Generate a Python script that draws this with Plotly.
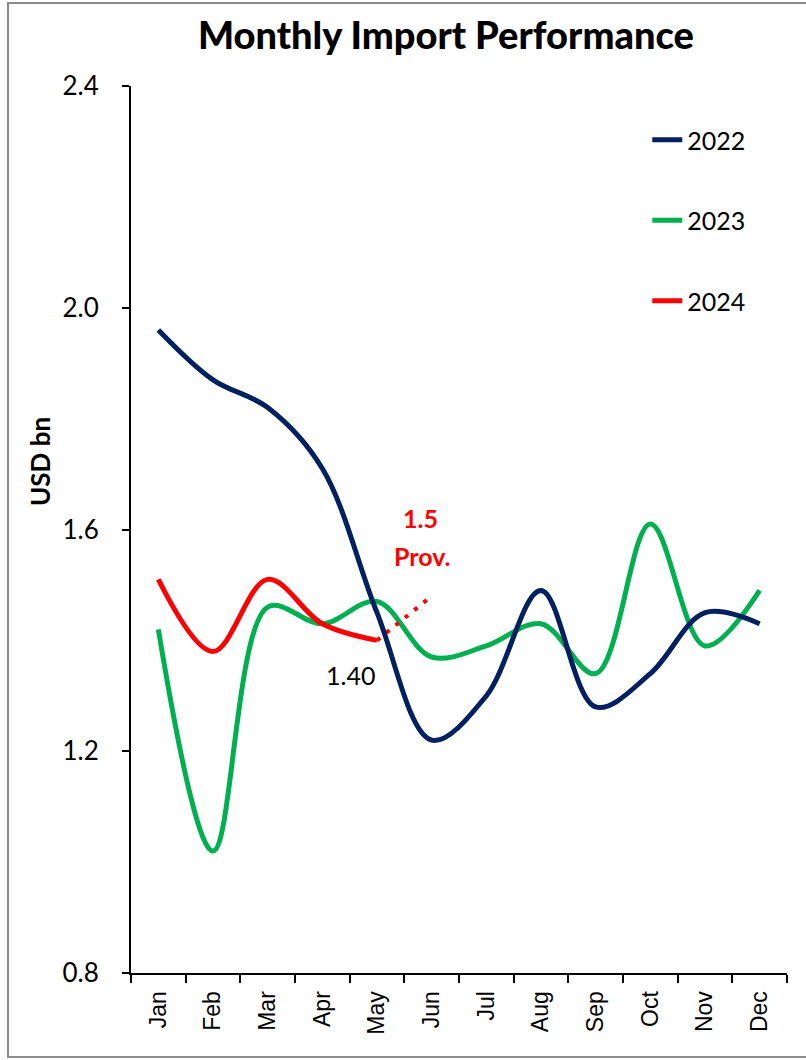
import plotly.graph_objects as go

months = ["Jan", "Feb", "Mar", "Apr", "May", "Jun", "Jul", "Aug", "Sep", "Oct", "Nov", "Dec"]
imp_2022 = [1.96, 1.87, 1.82, 1.71, 1.45, 1.22, 1.30, 1.49, 1.28, 1.34, 1.45, 1.43]
imp_2023 = [1.42, 1.02, 1.46, 1.43, 1.47, 1.37, 1.39, 1.43, 1.34, 1.61, 1.39, 1.49]
imp_2024 = [1.51, 1.38, 1.51, 1.43, 1.40]
prov_months = ["May", "Jun"]
prov_values = [1.40, 1.48]

NAVY = "#002060"
GREEN = "#00B050"
RED = "#FF0000"
FONT = "Lato"

fig = go.Figure()
fig.add_trace(go.Scatter(x=months, y=imp_2023, name="2023", mode="lines",
                         line=dict(color=GREEN, width=5, shape="spline", smoothing=1.0),
                         legendgroup="b", legendrank=2))
fig.add_trace(go.Scatter(x=months[:len(imp_2024)], y=imp_2024, name="2024", mode="lines",
                         line=dict(color=RED, width=5, shape="spline", smoothing=1.0),
                         legendgroup="c", legendrank=3))
fig.add_trace(go.Scatter(x=prov_months, y=prov_values, mode="lines", showlegend=False,
                         line=dict(color=RED, width=4, dash="4px,8px")))
fig.add_trace(go.Scatter(x=months, y=imp_2022, name="2022", mode="lines",
                         line=dict(color=NAVY, width=5, shape="spline", smoothing=1.0),
                         legendgroup="a", legendrank=1))

fig.add_annotation(x=prov_months[0], y=prov_values[0], text=f"{prov_values[0]:.2f}",
                   showarrow=False, xshift=-27, yshift=-35,
                   font=dict(family=FONT, size=25, color="black"))
fig.add_annotation(x=prov_months[1], y=prov_values[1], text=f"<b>{prov_values[1]:.1f}</b>",
                   showarrow=False, xshift=-11, yshift=78,
                   font=dict(family=FONT, size=25, color=RED))
fig.add_annotation(x=prov_months[1], y=prov_values[1], text="<b>Prov.</b>",
                   showarrow=False, xshift=-9, yshift=40,
                   font=dict(family=FONT, size=25, color=RED))

# y axis title
fig.add_annotation(xref="paper", yref="paper", x=-0.139, y=0.577, text="<b>USD bn</b>",
                   textangle=-90, showarrow=False, xanchor="center", yanchor="middle",
                   font=dict(family=FONT, size=26, color="black"))

# outer chart border
fig.add_shape(type="rect", xref="paper", yref="paper",
              x0=-0.1875, x1=1.04, y0=-0.0947, y1=1.0936,
              line=dict(color="#8c8c8c", width=2), fillcolor="rgba(0,0,0,0)")

fig.update_layout(
    width=806, height=1060,
    margin=dict(l=131, r=19, t=86, b=87),
    paper_bgcolor="white", plot_bgcolor="white",
    title=dict(text="Monthly Import Performance", x=0.48, xref="paper",
               xanchor="center", y=1 - 36 / 1060, yref="container", yanchor="middle",
               font=dict(family=FONT, size=38, color="black", weight=900)),
    legend=dict(x=0.787, y=0.965, xanchor="left", yanchor="top",
                font=dict(family=FONT, size=25, color="black"),
                tracegroupgap=45, bgcolor="rgba(0,0,0,0)"),
    font=dict(family=FONT, color="black"),
)
fig.update_xaxes(type="category", range=[-0.5, 11.5], tickson="boundaries",
                 ticks="outside", ticklen=8, tickwidth=2, tickcolor="black",
                 showline=True, linecolor="black", linewidth=2, showgrid=False,
                 tickangle=-90, ticklabelstandoff=7,
                 tickfont=dict(family="Liberation Sans", size=23, color="black"))
fig.update_yaxes(range=[0.8, 2.4], dtick=0.4, tick0=0.8, tickformat=".1f",
                 ticks="outside", ticklen=7, tickwidth=2, tickcolor="black",
                 showline=True, linecolor="black", linewidth=2, showgrid=False,
                 zeroline=False, ticklabelstandoff=18,
                 tickfont=dict(family=FONT, size=26, color="black"))

fig.write_html("out.html")
